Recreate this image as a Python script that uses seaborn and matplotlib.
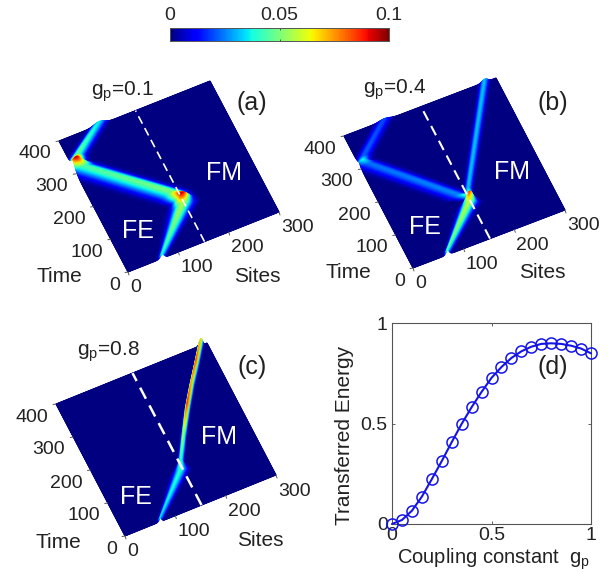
'''
Energy transfer across an FE/FM interface: three top-down surface panels
(site vs time), a shared colour bar and the transferred energy curve.
'''
import numpy as np
import pandas as pd
import matplotlib
matplotlib.use('Agg')
import matplotlib.pyplot as plt
import seaborn as sns

# --- Data ---
# ridges of the surfaces: time, site, peak value, width in sites
A_TIME = [0, 105, 122, 145, 300, 318, 335, 400]
A_SITE = [68, 145, 150, 138, 16, 6, 14, 80]
A_PEAK = [0.040, 0.056, 0.095, 0.050, 0.044, 0.095, 0.048, 0.036]
A_WIDTH = [6, 19, 15, 21, 21, 15, 15, 14]

B_IN_TIME = [0, 100, 118]
B_IN_SITE = [68, 145, 152]
B_IN_PEAK = [0.046, 0.058, 0.085]
B_IN_WIDTH = [5, 15, 7]
B_REFL_TIME = [118, 135, 300, 312, 325, 400]
B_REFL_SITE = [152, 135, 16, 7, 14, 80]
B_REFL_PEAK = [0.05, 0.026, 0.024, 0.038, 0.022, 0.020]
B_REFL_WIDTH = [7, 16, 17, 13, 14, 14]
B_OUT_TIME = [118, 140, 400]
B_OUT_SITE = [152, 157, 278]
B_OUT_PEAK = [0.05, 0.032, 0.032]
B_OUT_WIDTH = [6, 7, 8]

C_IN_TIME = [0, 100, 120]
C_IN_SITE = [70, 145, 152]
C_IN_PEAK = [0.036, 0.040, 0.044]
C_IN_WIDTH = [4, 13, 6]
C_OUT_TIME = [120, 180, 250, 300, 350, 400]
C_OUT_SITE = [152, 178, 210, 235, 262, 288]
C_OUT_PEAK = [0.042, 0.055, 0.088, 0.075, 0.085, 0.070]
C_OUT_WIDTH = [5, 4, 4, 4, 4, 4]

TIME_TICKS = [0, 100, 200, 300, 400]
SITE_TICKS = [0, 100, 200, 300]
INTERFACE_SITE = 152

COUPLING = [0, .05, .1, .15, .2, .25, .3, .35, .4, .45, .5,
            .55, .6, .65, .7, .75, .8, .85, .9, .95, 1]
TRANSFERRED = [0, .02, .066, .136, .223, .313, .407, .498, .581, .657, .727,
               .781, .826, .859, .882, .896, .899, .896, .887, .873, .849]

# --- Configuration ---
W, H = 613, 573
LIFT = 100  # screen pixels of surface height per unit value
FS = 14
LABEL_FS = 15
LETTER_FS = 18

sns.set_theme(style='white')
plt.rcParams['font.family'] = ['Liberation Sans', 'DejaVu Sans']
plt.rcParams['mathtext.fontset'] = 'custom'
plt.rcParams['mathtext.rm'] = 'Liberation Sans'
plt.rcParams['text.color'] = '#222222'


def surface(ridges):
    """Builds the value grid: a soft cross-section around each ridge."""
    sites = np.arange(0, 301, 1.0)
    times = np.arange(400, -1, -2.0)
    ss, tt = np.meshgrid(sites, times)
    z = np.zeros_like(ss)
    for rt, rs, rp, rw in ridges:
        centre = np.interp(tt, rt, rs)
        peak = np.interp(tt, rt, rp)
        width = np.interp(tt, rt, rw)
        inside = (tt >= rt[0]) & (tt <= rt[-1])
        z = np.maximum(z, inside * peak * np.exp(-((ss - centre) / width) ** 2))
    return ss, tt, z


def draw_panel(ax, origin, site_vec, time_vec, ridges, title, letter,
               dash_width, time_off, site_off):
    """Draws one tilted surface with its ticks and labels."""
    ox, oy = origin

    def to_screen(s, t):
        return (ox + np.asarray(s) * site_vec[0] / 300 + np.asarray(t) * time_vec[0] / 400,
                oy + np.asarray(s) * site_vec[1] / 300 + np.asarray(t) * time_vec[1] / 400)

    ss, tt, z = surface(ridges)
    xx, yy = to_screen(ss, tt)
    ax.pcolormesh(xx, yy - LIFT * z, z, cmap='jet', vmin=0, vmax=0.1,
                  shading='gouraud', rasterized=True)

    # interface between the two chains
    x, y = to_screen([INTERFACE_SITE, INTERFACE_SITE], [0, 400])
    ax.plot(x, y, color='white', lw=dash_width, dashes=(5, 3))

    for t in TIME_TICKS:
        x, y = to_screen(0, t)
        ax.plot([x, x - 3], [y, y + 0.5], color='#555555', lw=0.7)
        ax.text(x - 8, y + 13, str(t), ha='right', va='center', fontsize=FS)
    for s in SITE_TICKS:
        x, y = to_screen(s, 0)
        ax.plot([x, x + 1], [y, y + 3], color='#555555', lw=0.7)
        ax.text(x + 2, y + 16, str(s), ha='left', va='center', fontsize=FS)

    ax.text(ox + time_off[0], oy + time_off[1], 'Time', ha='center', va='center', fontsize=LABEL_FS)
    ax.text(ox + site_off[0], oy + site_off[1], 'Sites', ha='center', va='center', fontsize=LABEL_FS)
    ax.text(title[0], title[1], title[2], ha='center', va='center', fontsize=LABEL_FS)
    ax.text(letter[0], letter[1], letter[2], ha='center', va='center', fontsize=LETTER_FS)


fig = plt.figure(figsize=(W / 100, H / 100), dpi=100)
canvas = fig.add_axes([0, 0, 1, 1])

draw_panel(canvas, (128, 272), (151, -60), (-69, -131),
           [(A_TIME, A_SITE, A_PEAK, A_WIDTH)],
           (122, 92, r'g$_{\mathrm{p}}$=0.1'), (252, 103, '(a)'), 1.2, (-69, 5), (129, 5))
draw_panel(canvas, (413, 268), (152, -58), (-69, -132),
           [(B_IN_TIME, B_IN_SITE, B_IN_PEAK, B_IN_WIDTH),
            (B_REFL_TIME, B_REFL_SITE, B_REFL_PEAK, B_REFL_WIDTH),
            (B_OUT_TIME, B_OUT_SITE, B_OUT_PEAK, B_OUT_WIDTH)],
           (395, 90, r'g$_{\mathrm{p}}$=0.4'), (553, 103, '(b)'), 1.5, (-65, 4), (129, 5))
draw_panel(canvas, (125, 536), (151, -61), (-69, -132),
           [(C_IN_TIME, C_IN_SITE, C_IN_PEAK, C_IN_WIDTH),
            (C_OUT_TIME, C_OUT_SITE, C_OUT_PEAK, C_OUT_WIDTH)],
           (108, 352, r'g$_{\mathrm{p}}$=0.8'), (252, 367, '(c)'), 1.8, (-67, 7), (135, 4))

# region names on the surfaces
for x, y, name in [(138, 231, 'FE'), (224, 173, 'FM'), (425, 227, 'FE'),
                   (512, 172, 'FM'), (136, 497, 'FE'), (219, 437, 'FM')]:
    canvas.text(x, y, name, color='white', ha='center', va='center', fontsize=LETTER_FS)

canvas.set_xlim(0, W)
canvas.set_ylim(H, 0)
canvas.axis('off')

# --- Colour bar ---
cax = fig.add_axes([170 / W, 1 - 41 / H, 219 / W, 13 / H])
levels = pd.DataFrame([np.linspace(0, 0.1, 256)])
sns.heatmap(levels, ax=cax, cmap='jet', vmin=0, vmax=0.1, cbar=False,
            xticklabels=False, yticklabels=False)
cax.set_xticks([0, 128, 256])
cax.set_xticklabels(['0', '0.05', '0.1'], fontsize=FS)
cax.xaxis.tick_top()
cax.tick_params(axis='x', length=0, pad=3)
cax.vlines(128, 0, 0.15, color='#444444', lw=0.6)
cax.vlines(128, 0.85, 1, color='#444444', lw=0.6)
for side in cax.spines.values():
    side.set_visible(True)
    side.set_color('#555555')
    side.set_linewidth(0.7)

# --- Panel (d) ---
dax = fig.add_axes([392 / W, 1 - 524 / H, 199 / W, 201 / H])
curve = pd.DataFrame({'gp': COUPLING, 'energy': TRANSFERRED})
sns.lineplot(data=curve, x='gp', y='energy', ax=dax, color='#1414e6', lw=1.5,
             marker='o', markersize=8, markerfacecolor='none',
             markeredgecolor='#1414e6', markeredgewidth=1.1, clip_on=False, zorder=5)
dax.set_xlim(0, 1)
dax.set_ylim(0, 1)
dax.set_xticks([0, 0.5, 1])
dax.set_xticklabels(['0', '0.5', '1'], fontsize=FS)
dax.set_yticks([0, 0.5, 1])
dax.set_yticklabels(['0', '0.5', '1'], fontsize=FS)
dax.tick_params(direction='in', length=2, width=0.6, top=True, right=True,
                bottom=True, left=True, color='#444444', pad=3, labelcolor='#222222')
dax.tick_params(axis='x', pad=2)
dax.set_xlabel('')
dax.set_ylabel('')
for side in dax.spines.values():
    side.set_color('#555555')
    side.set_linewidth(0.8)

canvas.text(493, 559, r'Coupling constant  g$_{\mathrm{p}}$', ha='center', va='center', fontsize=14.5)
canvas.text(345, 435, 'Transferred Energy', ha='center', va='center', rotation=90, fontsize=LABEL_FS)
dax.text(553, 367, '(d)', ha='center', va='center', fontsize=LETTER_FS,
         transform=canvas.transData)

fig.savefig('out.png', dpi=100)
plt.close(fig)
